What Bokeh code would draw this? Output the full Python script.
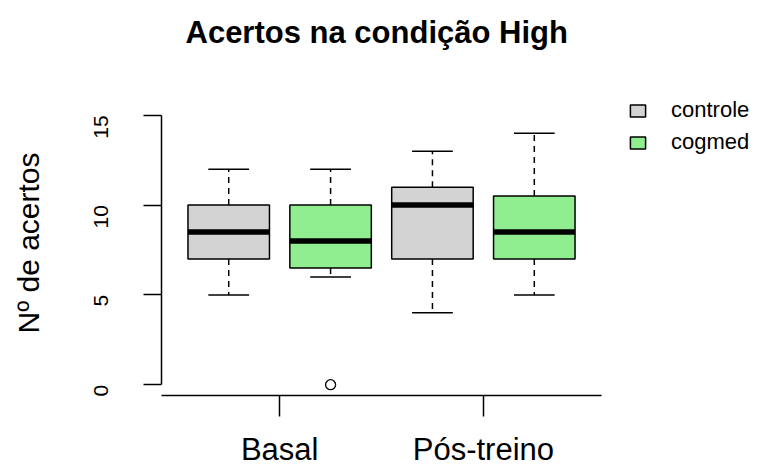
import math
from bokeh.plotting import figure
from bokeh.models import FixedTicker, Range1d, Legend, LegendItem, ColumnDataSource, Title
from bokeh.embed import file_html
from bokeh.resources import INLINE

# ---- data ----
groups = ["controle", "cogmed", "controle", "cogmed"]
positions = [1, 2, 3, 4]
q1 = [7.0, 6.5, 7.0, 7.0]
median = [8.5, 8.0, 10.0, 8.5]
q3 = [10.0, 10.0, 11.0, 10.5]
whisk_lo = [5, 6, 4, 5]
whisk_hi = [12, 12, 13, 14]
outlier_x = [2]
outlier_y = [0]
fill_colors = ["#D3D3D3", "#90EE90", "#D3D3D3", "#90EE90"]
category_labels = ["Basal", "Pós-treino"]
category_ticks = [1.5, 3.5]
y_ticks = [0, 5, 10, 15]
title_text = "Acertos na condição High"

FONT = "Liberation Sans"
BOX_W = 0.8
CAP_W = 0.4

src = ColumnDataSource(dict(
    x=positions, q1=q1, q3=q3, med=median, lo=whisk_lo, hi=whisk_hi,
    color=fill_colors, group=groups,
    xl=[p - BOX_W / 2 for p in positions], xr=[p + BOX_W / 2 for p in positions],
    cl=[p - CAP_W / 2 for p in positions], cr=[p + CAP_W / 2 for p in positions],
))

# frame widened to the right so the legend sits inside it (x axis line limited by bounds)
p = figure(frame_width=603, frame_height=305, output_backend="svg", toolbar_location=None,
           x_range=Range1d(0.34, 6.26), y_range=Range1d(-0.6, 16.38),
           min_border_left=161, min_border_right=0,
           min_border_top=90, min_border_bottom=73, title=None)

# spacer title (closest to the frame) then the real title above it
spacer = Title(text=" ", text_font_size="10px", standoff=28)
p.add_layout(spacer, "above")
main_title = Title(text=title_text, align="left", vertical_align="bottom",
                   text_font=FONT, text_font_size="31px", text_font_style="bold",
                   text_color="black", standoff=0, offset=24)
p.add_layout(main_title, "above")

p.outline_line_color = None
p.xgrid.visible = False
p.ygrid.visible = False
p.background_fill_color = "white"
p.border_fill_color = "white"

# whiskers
p.segment(x0="x", y0="q3", x1="x", y1="hi", source=src, line_color="black",
          line_width=1.5, line_dash="6 5")
p.segment(x0="x", y0="q1", x1="x", y1="lo", source=src, line_color="black",
          line_width=1.5, line_dash="6 5")
p.segment(x0="cl", y0="hi", x1="cr", y1="hi", source=src, line_color="black", line_width=1.5)
p.segment(x0="cl", y0="lo", x1="cr", y1="lo", source=src, line_color="black", line_width=1.5)

# boxes
boxes = p.vbar(x="x", bottom="q1", top="q3", width=BOX_W, source=src,
               fill_color="color", line_color="black", line_width=1.5)
# medians
p.segment(x0="xl", y0="med", x1="xr", y1="med", source=src, line_color="black",
          line_width=5.5, line_cap="butt")
# outliers
p.scatter(x=outlier_x, y=outlier_y, marker="circle", size=10, fill_color="white",
          line_color="black", line_width=1.3)

# axes
xa = p.xaxis[0]
xa.ticker = FixedTicker(ticks=category_ticks)
xa.bounds = (0.34, 4.66)
xa.major_label_overrides = {t: l for t, l in zip(category_ticks, category_labels)}
xa.major_tick_out = 21
xa.major_tick_in = 0
xa.minor_tick_line_color = None
xa.axis_line_width = 1.5
xa.major_tick_line_width = 1.5
xa.major_label_text_font = FONT
xa.major_label_text_font_size = "31px"
xa.major_label_text_color = "black"
xa.major_label_standoff = 15

ya = p.yaxis[0]
ya.ticker = FixedTicker(ticks=y_ticks)
ya.bounds = (0, 15)
ya.major_tick_out = 18
ya.major_tick_in = 0
ya.minor_tick_line_color = None
ya.axis_line_width = 1.5
ya.major_tick_line_width = 1.5
ya.major_label_orientation = math.pi / 2
ya.major_label_text_font = FONT
ya.major_label_text_font_size = "21px"
ya.major_label_text_color = "black"
ya.major_label_standoff = 42
ya.axis_label = "Nº de acertos"
ya.axis_label_text_font = FONT
ya.axis_label_text_font_size = "30px"
ya.axis_label_text_font_style = "normal"
ya.axis_label_text_color = "black"
ya.axis_label_standoff = 40

legend = Legend(items=[LegendItem(label=groups[0], renderers=[boxes], index=0),
                       LegendItem(label=groups[1], renderers=[boxes], index=1)],
                location=(467, 240))
legend.padding = 0
legend.margin = 0
legend.spacing = 6
legend.glyph_width = 19
legend.glyph_height = 15
legend.label_height = 16
legend.label_standoff = 24
legend.label_text_font = FONT
legend.label_text_font_size = "22px"
legend.label_text_color = "black"
legend.border_line_color = None
legend.background_fill_alpha = 0
p.add_layout(legend, "center")

open("out.html", "w").write(file_html(p, INLINE))
